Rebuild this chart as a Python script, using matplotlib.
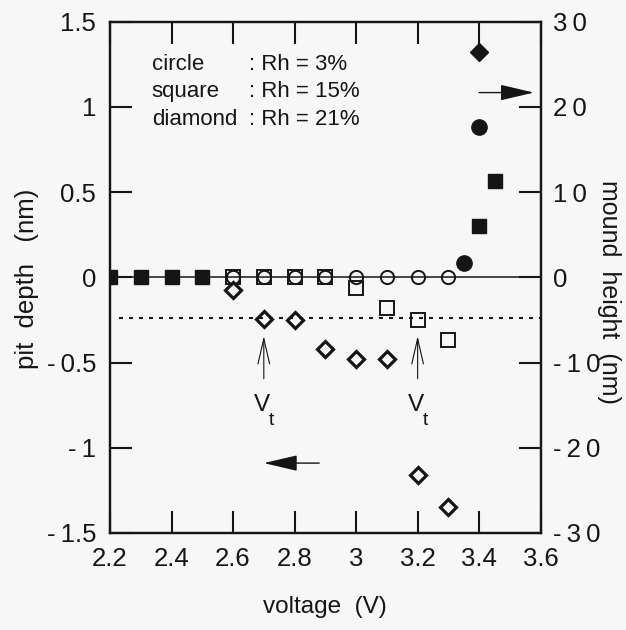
import matplotlib
matplotlib.use("Agg")
import matplotlib.pyplot as plt

plt.rcParams['font.family'] = ['Liberation Sans', 'DejaVu Sans']

T = '\u2009'  # thin space, used to imitate the wide letter tracking of the original

# ---- data ----
x_ticks = [2.2, 2.4, 2.6, 2.8, 3.0, 3.2, 3.4, 3.6]
x_ticklabels = ['2.2', '2.4', '2.6', '2.8', '3', '3.2', '3.4', '3.6']
left_ticks = [1.5, 1.0, 0.5, 0.0, -0.5, -1.0, -1.5]
left_ticklabels = ['1.5', '1', '0.5', '0', '-0.5', '-1', '-1.5']
right_ticks = [30, 20, 10, 0, -10, -20, -30]
right_ticklabels = ['30', '20', '10', '0', '-10', '-20', '-30']

# circle : Rh = 3%
circle_pit_v = [2.6, 2.7, 2.8, 2.9, 3.0, 3.1, 3.2, 3.3]
circle_pit = [0, 0, 0, 0, 0, 0, 0, 0]
circle_mound_v = [3.35, 3.4]
circle_mound = [1.7, 17.6]

# square : Rh = 15%
square_pit_v = [2.6, 2.7, 2.8, 2.9, 3.0, 3.1, 3.2, 3.3]
square_pit = [0, 0, 0, 0, -0.06, -0.18, -0.25, -0.37]
square_mound_v = [2.2, 2.3, 2.4, 2.5, 3.4, 3.45]
square_mound = [0, 0, 0, 0, 6.0, 11.3]

# diamond : Rh = 21%
diamond_pit_v = [2.6, 2.7, 2.8, 2.9, 3.0, 3.1, 3.2, 3.3]
diamond_pit = [-0.077, -0.243, -0.253, -0.42, -0.48, -0.48, -1.16, -1.345]
diamond_mound_v = [3.4]
diamond_mound = [26.4]

threshold = -0.24
vt_positions = [2.7, 3.2]

legend_names = ['circle', 'square', 'diamond']
legend_descs = [': Rh = 3%', ': Rh = 15%', ': Rh = 21%']


def spaced(s):
    return T.join(s)


def hyphen_gap(s):
    return s.replace('-', '-' + T) if s.startswith('-') else s


ink = '#151515'
bg = '#f7f7f7'

fig = plt.figure(figsize=(6.26, 6.30), dpi=100, facecolor=bg)
ax = fig.add_axes([0.1757, 0.154, 0.8637 - 0.1757, 0.9656 - 0.154])
ax.set_facecolor(bg)
ax2 = ax.twinx()

ax.set_xlim(2.2, 3.6)
ax.set_ylim(-1.5, 1.5)
ax2.set_ylim(-30, 30)

# reference lines
ax.axhline(0, color=ink, lw=1.1, zorder=1)
ax.plot([2.23, 3.6], [threshold, threshold], color=ink, lw=1.5,
        dashes=(1.9, 2.9), zorder=1)

# pit depth (open markers, left axis)
ax.plot(circle_pit_v, circle_pit, 'o', ms=9.5, mfc='none', mec=ink, mew=1.4, zorder=3)
ax.plot(square_pit_v, square_pit, 's', ms=10, mfc='none', mec=ink, mew=1.4, zorder=3)
ax.plot(diamond_pit_v, diamond_pit, 'D', ms=8.5, mfc='none', mec=ink, mew=2.3, zorder=3)

# mound height (filled markers, right axis)
ax2.plot(circle_mound_v, circle_mound, 'o', ms=11, mfc=ink, mec=ink, zorder=3)
ax2.plot(square_mound_v, square_mound, 's', ms=10.5, mfc=ink, mec=ink, zorder=3)
ax2.plot(diamond_mound_v, diamond_mound, 'D', ms=9.5, mfc=ink, mec=ink, zorder=3)

# ticks
ax.set_xticks(x_ticks)
ax.set_xticklabels(x_ticklabels)
ax.set_yticks(left_ticks)
ax.set_yticklabels([hyphen_gap(s) for s in left_ticklabels])
ax2.set_yticks(right_ticks)
ax2.set_yticklabels([spaced(s) for s in right_ticklabels])
ax.tick_params(axis='x', direction='in', length=16, width=1.5, top=True,
               labelsize=18.5, pad=10, colors=ink)
ax.tick_params(axis='y', direction='in', length=16, width=1.5,
               labelsize=18.5, pad=10, colors=ink)
ax2.tick_params(axis='y', direction='in', length=16, width=1.5,
                labelsize=18.5, pad=9, colors=ink)
for a in (ax, ax2):
    for s in a.spines.values():
        s.set_linewidth(1.6)
        s.set_color(ink)

ax.set_xlabel('voltage  (V)', fontsize=17.5, labelpad=18, color=ink)
ax.set_ylabel('pit  depth   (nm)', fontsize=18.5, color=ink)
ax.yaxis.set_label_coords(-0.193, 0.497)
ax.yaxis.label.set_ha('center')
ax.yaxis.label.set_va('center')
ax2.set_ylabel('mound  height  (nm)', fontsize=18, rotation=-90, color=ink)
ax2.yaxis.set_label_coords(1.158, 0.471)
ax2.yaxis.label.set_ha('center')
ax2.yaxis.label.set_va('center')

# legend text
for i, (n, d) in enumerate(zip(legend_names, legend_descs)):
    yy = 0.9055 - i * 0.0537
    ax.text(0.097, yy, n, transform=ax.transAxes, fontsize=16, va='baseline', ha='left', color=ink)
    ax.text(0.322, yy, d, transform=ax.transAxes, fontsize=16, va='baseline', ha='left', color=ink)

# V_t arrows
for xv in vt_positions:
    ax.annotate('', xy=(xv, -0.345), xytext=(xv, -0.595),
                arrowprops=dict(arrowstyle='->,head_length=1.3,head_width=0.3',
                                color=ink, lw=0.8, shrinkA=0, shrinkB=0,
                                mutation_scale=14))
    ax.text(xv - 0.005, -0.75, 'V', fontsize=17.5, ha='center', va='center', color=ink)
    ax.text(xv + 0.024, -0.84, 't', fontsize=14, ha='center', va='center', color=ink)

# axis direction arrows
ax.annotate('', xy=(2.70, -1.09), xytext=(2.88, -1.09),
            arrowprops=dict(arrowstyle='-|>,head_length=1.5,head_width=0.35',
                            color=ink, lw=1.0, shrinkA=0, shrinkB=0, mutation_scale=14))
ax.annotate('', xy=(3.578, 1.084), xytext=(3.40, 1.084),
            arrowprops=dict(arrowstyle='-|>,head_length=1.5,head_width=0.35',
                            color=ink, lw=1.0, shrinkA=0, shrinkB=0, mutation_scale=14))

fig.savefig('out.png', dpi=100, facecolor=bg)
